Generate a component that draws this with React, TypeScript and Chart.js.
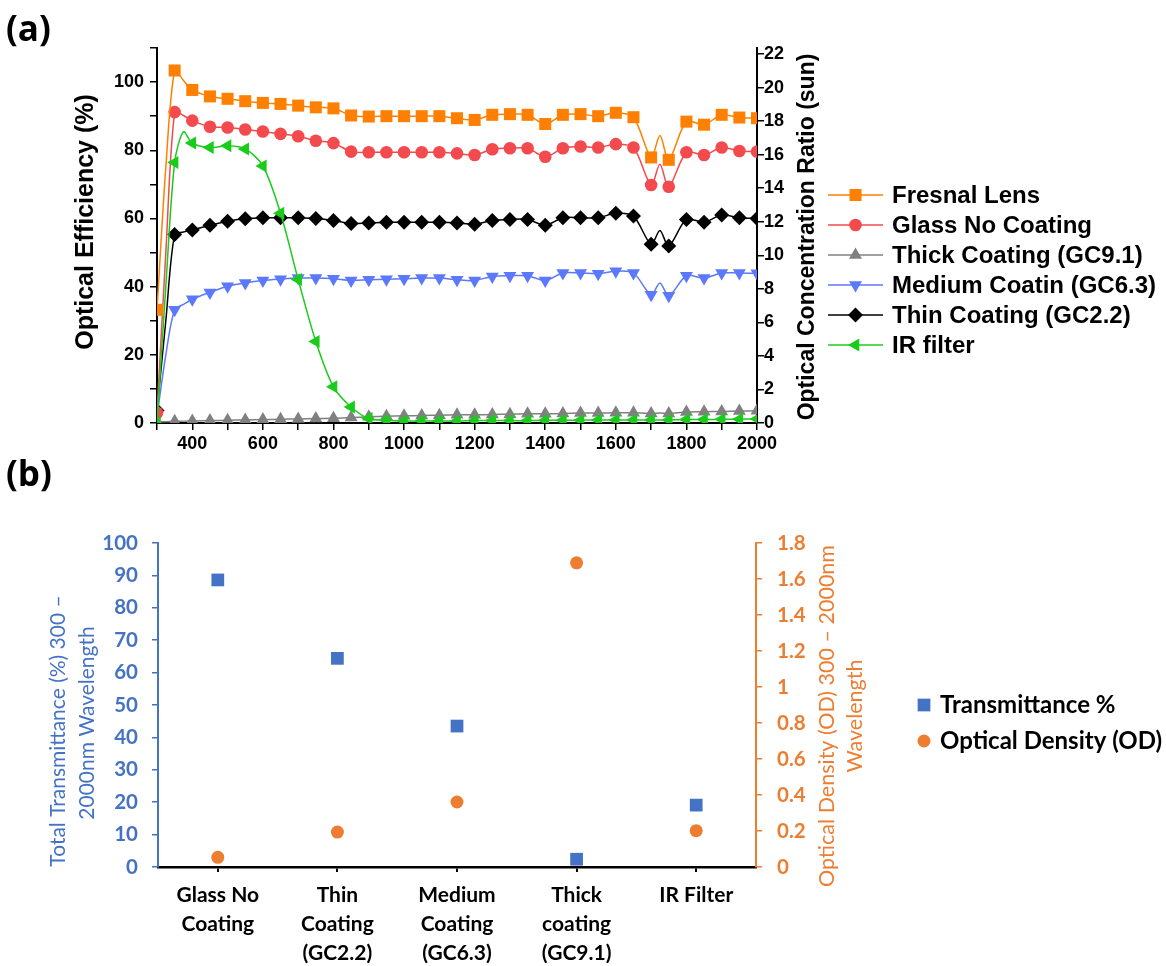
import React, { useEffect, useRef } from "react";
import { Chart, registerables } from "chart.js";

Chart.register(...registerables);

// ---------- (a) optical efficiency data ----------
const WAVELENGTHS = [300, 325, 350, 375, 400, 450, 500, 550, 600, 650, 700, 750, 800, 850, 900, 950, 1000, 1050, 1100, 1150, 1200, 1250, 1300, 1350, 1400, 1450, 1500, 1550, 1600, 1650, 1700, 1725, 1750, 1800, 1850, 1900, 1950, 2000];

const FRESNEL_LENS = [33.2, 75, 103.4, 100.5, 97.7, 95.8, 95.1, 94.4, 93.9, 93.6, 93.1, 92.6, 92.3, 90.2, 89.9, 90.0, 90.0, 90.0, 90.0, 89.4, 88.9, 90.4, 90.6, 90.4, 87.7, 90.4, 90.6, 90.0, 91.0, 89.7, 77.9, 84.3, 77.2, 88.4, 87.5, 90.4, 89.6, 89.4];
const GLASS_NO_COATING = [3, 50, 91.2, 90.2, 88.7, 86.9, 86.7, 86.1, 85.5, 84.8, 84.1, 82.8, 82.1, 79.6, 79.4, 79.4, 79.4, 79.4, 79.4, 79.1, 78.6, 80.3, 80.6, 80.6, 78.1, 80.6, 81.1, 80.8, 81.8, 80.8, 69.8, 75.9, 69.3, 79.4, 78.6, 80.8, 79.8, 79.6];
const THICK_COATING = [0.3, 0.4, 0.5, 0.55, 0.6, 0.7, 0.8, 0.9, 1.0, 1.1, 1.2, 1.3, 1.4, 1.6, 1.8, 2.0, 2.1, 2.2, 2.3, 2.4, 2.4, 2.5, 2.6, 2.7, 2.7, 2.8, 2.9, 2.9, 3.0, 3.0, 2.8, 2.9, 2.8, 3.2, 3.3, 3.4, 3.5, 3.6];
const MEDIUM_COATING = [2, 20, 33.2, 34.8, 36.3, 38.3, 40.1, 41.1, 41.8, 42.2, 42.5, 42.5, 42.3, 41.8, 42.0, 42.2, 42.3, 42.5, 42.5, 42.0, 41.8, 43.0, 43.2, 43.2, 41.8, 44.0, 44.0, 43.8, 44.5, 44.0, 37.6, 41.1, 37.3, 43.2, 42.5, 44.0, 44.0, 43.9];
const THIN_COATING = [3.7, 30, 55.3, 56, 56.6, 58.0, 59.2, 59.9, 60.2, 60.2, 60.2, 60.0, 59.4, 58.5, 58.7, 58.9, 58.9, 58.9, 58.9, 58.7, 58.3, 59.4, 59.7, 59.7, 58.0, 60.2, 60.2, 60.2, 61.5, 60.7, 52.4, 56.5, 51.9, 59.7, 58.9, 61.0, 60.2, 60.0];
const IR_FILTER = [0, 40, 76.4, 85.4, 82.1, 80.8, 81.3, 80.4, 75.4, 61.5, 42.1, 23.9, 10.6, 4.7, 1.3, 0.8, 0.6, 0.6, 0.6, 0.6, 0.7, 0.7, 0.7, 0.7, 0.8, 0.8, 0.8, 0.9, 0.9, 0.9, 0.9, 0.9, 0.9, 1.0, 1.0, 1.1, 1.1, 1.2];

const SERIES_NAMES = ["Fresnal Lens", "Glass No Coating", "Thick Coating (GC9.1)", "Medium Coatin (GC6.3)", "Thin Coating (GC2.2)", "IR filter"];
const SERIES_VALUES = [FRESNEL_LENS, GLASS_NO_COATING, THICK_COATING, MEDIUM_COATING, THIN_COATING, IR_FILTER];
const CONCENTRATION_TICKS = [0, 1, 2, 3, 4, 5, 6, 7, 8, 9, 10, 11, 12, 13, 14, 15, 16, 17, 18, 19, 20, 21, 22];

// ---------- (b) transmittance / OD data ----------
const SAMPLE_LABELS = [["Glass No", "Coating"], ["Thin", "Coating", "(GC2.2)"], ["Medium", "Coating", "(GC6.3)"], ["Thick", "coating", "(GC9.1)"], ["IR Filter"]];
const TRANSMITTANCE = [88.6, 64.4, 43.5, 2.4, 19.1];
const OPTICAL_DENSITY = [0.054, 0.194, 0.361, 1.69, 0.202];

// ---------- styles ----------
const TOP_STYLES = [
  { color: "#FF8000", style: "rect", radius: 8.5, rotation: 0 },
  { color: "#F24A4D", style: "circle", radius: 6.3, rotation: 0 },
  { color: "#808080", style: "triangle", radius: 7.5, rotation: 0 },
  { color: "#5B79FA", style: "triangle", radius: 7.5, rotation: 180 },
  { color: "#000000", style: "rectRot", radius: 7.5, rotation: 0 },
  { color: "#1ACC1A", style: "triangle", radius: 7.5, rotation: 270 },
];
const ARIAL = '"Liberation Sans", Arial, sans-serif';
const CAL = 'Lato, "Open Sans", sans-serif';
const BLUE = "#4472C4";
const ORANGE = "#ED7D31";

function drawMarker(ctx: CanvasRenderingContext2D, style: string, x: number, y: number, r: number, rotation: number, color: string) {
  ctx.save();
  ctx.fillStyle = color;
  ctx.translate(x, y);
  ctx.beginPath();
  let rad = (rotation * Math.PI) / 180;
  if (style === "rect") {
    const s = r * Math.SQRT1_2;
    ctx.rect(-s, -s, 2 * s, 2 * s);
  } else if (style === "circle") {
    ctx.arc(0, 0, r, 0, Math.PI * 2);
  } else if (style === "rectRot") {
    ctx.moveTo(0, -r);
    ctx.lineTo(r, 0);
    ctx.lineTo(0, r);
    ctx.lineTo(-r, 0);
    ctx.closePath();
  } else {
    ctx.moveTo(Math.sin(rad) * r, -Math.cos(rad) * r);
    rad += (2 * Math.PI) / 3;
    ctx.lineTo(Math.sin(rad) * r, -Math.cos(rad) * r);
    rad += (2 * Math.PI) / 3;
    ctx.lineTo(Math.sin(rad) * r, -Math.cos(rad) * r);
    ctx.closePath();
  }
  ctx.fill();
  ctx.restore();
}

function rotatedText(ctx: CanvasRenderingContext2D, text: string, x: number, y: number, font: string, color: string) {
  ctx.save();
  ctx.translate(x, y);
  ctx.rotate(-Math.PI / 2);
  ctx.font = font;
  ctx.fillStyle = color;
  ctx.textAlign = "center";
  ctx.textBaseline = "middle";
  ctx.fillText(text, 0, 0);
  ctx.restore();
}

const topDecor = {
  id: "topDecor",
  afterDraw(chart: any) {
    const ctx: CanvasRenderingContext2D = chart.ctx;
    ctx.save();
    // panel labels
    ctx.font = 'bold 35px "Open Sans", sans-serif';
    ctx.fillStyle = "#000";
    ctx.textAlign = "left";
    ctx.textBaseline = "alphabetic";
    ctx.fillText("(a)", 6, 41);
    ctx.fillText("(b)", 6, 486);
    // axis titles
    rotatedText(ctx, "Optical Efficiency (%)", 86, 222, `bold 25px ${ARIAL}`, "#000");
    rotatedText(ctx, "Optical Concentration Ratio (sun)", 808, 237, `bold 23px ${ARIAL}`, "#000");
    // legend
    SERIES_NAMES.forEach((name, i) => {
      const st = TOP_STYLES[i];
      const y = 195 + i * 30;
      ctx.strokeStyle = st.color;
      ctx.lineWidth = 1.5;
      ctx.beginPath();
      ctx.moveTo(828, y);
      ctx.lineTo(883, y);
      ctx.stroke();
      drawMarker(ctx, st.style, 855.5, y, st.radius, st.rotation, st.color);
      ctx.font = `bold 24px ${ARIAL}`;
      ctx.fillStyle = "#000";
      ctx.textAlign = "left";
      ctx.textBaseline = "middle";
      ctx.fillText(name, 892, y + 1);
    });
    ctx.restore();
  },
};

const bottomDecor = {
  id: "bottomDecor",
  afterDraw(chart: any) {
    const ctx: CanvasRenderingContext2D = chart.ctx;
    ctx.save();
    rotatedText(ctx, "Total Transmittance (%) 300 –", 58, 231, `21px ${CAL}`, BLUE);
    rotatedText(ctx, "2000nm Wavelength", 87, 223, `21px ${CAL}`, BLUE);
    rotatedText(ctx, "Optical Density (OD) 300 – 2000nm", 827, 216, `21.5px ${CAL}`, ORANGE);
    rotatedText(ctx, "Wavelength", 855, 216, `21.5px ${CAL}`, ORANGE);
    // legend
    drawMarker(ctx, "rect", 924, 205, 9, 0, BLUE);
    drawMarker(ctx, "circle", 924, 241, 6.5, 0, ORANGE);
    ctx.font = `bold 24px ${CAL}`;
    ctx.fillStyle = "#000";
    ctx.textAlign = "left";
    ctx.textBaseline = "middle";
    ctx.fillText("Transmittance %", 940, 205);
    ctx.fillText("Optical Density (OD)", 940, 241);
    ctx.restore();
  },
};

function TopChart() {
  const ref = useRef<HTMLCanvasElement>(null);
  useEffect(() => {
    const canvas = ref.current!;
    const tickFont = { family: ARIAL, weight: "bold" as const, size: 18 };
    const datasets = SERIES_VALUES.map((vals, i) => {
      const st = TOP_STYLES[i];
      return {
        label: SERIES_NAMES[i],
        data: vals.map((v, j) => ({ x: WAVELENGTHS[j], y: v })),
        borderColor: st.color,
        backgroundColor: st.color,
        borderWidth: 1.5,
        tension: 0.3,
        pointStyle: st.style,
        pointRotation: st.rotation,
        pointRadius: (c: any) => (WAVELENGTHS[c.dataIndex] % 50 === 0 ? st.radius : 0),
        pointBorderWidth: 0,
        pointBackgroundColor: st.color,
        pointBorderColor: st.color,
        yAxisID: "y",
        order: i === 5 ? 0 : i === 2 ? 1 : i + 2,
      };
    });
    const chart = new Chart(canvas, {
      type: "line",
      data: { datasets: datasets as any },
      options: {
        animation: false,
        responsive: false,
        events: [],
        layout: { padding: { left: 0, top: 48, right: 344, bottom: 0 } },
        plugins: { legend: { display: false }, tooltip: { enabled: false } },
        scales: {
          x: {
            type: "linear",
            min: 300,
            max: 2000,
            ticks: {
              stepSize: 100,
              autoSkip: false,
              maxRotation: 0,
              padding: 3,
              color: "#000",
              font: tickFont,
              callback: (v: any) => (v % 200 === 0 ? String(v) : ""),
            },
            grid: { drawOnChartArea: false, tickLength: 7, color: "#000", lineWidth: 1.5 },
            border: { color: "#000", width: 2 },
            afterFit: (s: any) => {
              s.height = 77;
            },
          },
          y: {
            position: "left",
            min: 0,
            max: 110,
            ticks: {
              stepSize: 10,
              padding: 6,
              color: "#000",
              font: tickFont,
              callback: (v: any) => (v % 20 === 0 && v <= 100 ? String(v) : ""),
            },
            grid: { drawOnChartArea: false, tickLength: 7, color: "#000", lineWidth: 1.5 },
            border: { color: "#000", width: 2 },
            afterFit: (s: any) => {
              s.width = 157;
            },
          },
          y2: {
            position: "right",
            min: 0,
            max: 22.36,
            ticks: {
              padding: 0,
              color: "#000",
              font: tickFont,
              callback: (v: any) => (v % 2 === 0 ? String(v) : ""),
            },
            afterBuildTicks: (s: any) => {
              s.ticks = CONCENTRATION_TICKS.map((v) => ({ value: v }));
            },
            grid: { drawOnChartArea: false, tickLength: 7, color: "#000", lineWidth: 1.5 },
            border: { color: "#000", width: 2 },
            afterFit: (s: any) => {
              s.width = 65;
            },
          },
        },
      } as any,
      plugins: [topDecor],
    });
    return () => chart.destroy();
  }, []);
  return <canvas ref={ref} width={1166} height={500} style={{ position: "absolute", left: 0, top: 0, width: 1166, height: 500 }} />;
}

function BottomChart() {
  const ref = useRef<HTMLCanvasElement>(null);
  useEffect(() => {
    const canvas = ref.current!;
    const chart = new Chart(canvas, {
      type: "line",
      data: {
        labels: SAMPLE_LABELS as any,
        datasets: [
          {
            label: "Transmittance %",
            data: TRANSMITTANCE,
            showLine: false,
            pointStyle: "rect",
            pointRadius: 9,
            pointBorderWidth: 0,
            pointBackgroundColor: BLUE,
            pointBorderColor: BLUE,
            backgroundColor: BLUE,
            borderColor: BLUE,
            yAxisID: "y",
          },
          {
            label: "Optical Density (OD)",
            data: OPTICAL_DENSITY,
            showLine: false,
            pointStyle: "circle",
            pointRadius: 6.5,
            pointBorderWidth: 0,
            pointBackgroundColor: ORANGE,
            pointBorderColor: ORANGE,
            backgroundColor: ORANGE,
            borderColor: ORANGE,
            yAxisID: "y2",
          },
        ],
      },
      options: {
        animation: false,
        responsive: false,
        events: [],
        layout: { padding: { left: 0, top: 43, right: 286, bottom: 0 } },
        plugins: { legend: { display: false }, tooltip: { enabled: false } },
        scales: {
          x: {
            type: "category",
            offset: true,
            ticks: {
              autoSkip: false,
              maxRotation: 0,
              padding: 9,
              color: "#000",
              font: { family: CAL, weight: "bold", size: 21, lineHeight: 1.38 },
            },
            grid: { drawOnChartArea: false, offset: false, tickLength: 5, color: "#000", lineWidth: 2 },
            border: { color: "#000", width: 2.5 },
            afterFit: (s: any) => {
              s.height = 99;
            },
          },
          y: {
            position: "left",
            min: 0,
            max: 100,
            ticks: {
              stepSize: 10,
              padding: 14,
              color: BLUE,
              font: { family: CAL, weight: "bold", size: 20.5 },
            },
            grid: { drawOnChartArea: false, tickLength: 6, color: BLUE, lineWidth: 1.5 },
            border: { color: BLUE, width: 2 },
            afterFit: (s: any) => {
              s.width = 158;
            },
          },
          y2: {
            position: "right",
            min: 0,
            max: 1.8,
            ticks: {
              stepSize: 0.2,
              padding: 15,
              color: ORANGE,
              font: { family: CAL, weight: "bold", size: 20.5 },
              callback: (v: any) => String(Math.round(v * 10) / 10),
            },
            grid: { drawOnChartArea: false, tickLength: 6, color: ORANGE, lineWidth: 1.5 },
            border: { color: ORANGE, width: 2 },
            afterFit: (s: any) => {
              s.width = 124;
            },
          },
        },
      } as any,
      plugins: [bottomDecor],
    });
    return () => chart.destroy();
  }, []);
  return <canvas ref={ref} width={1166} height={466} style={{ position: "absolute", left: 0, top: 500, width: 1166, height: 466 }} />;
}

export default function App() {
  return (
    <div>
      <TopChart />
      <BottomChart />
    </div>
  );
}
